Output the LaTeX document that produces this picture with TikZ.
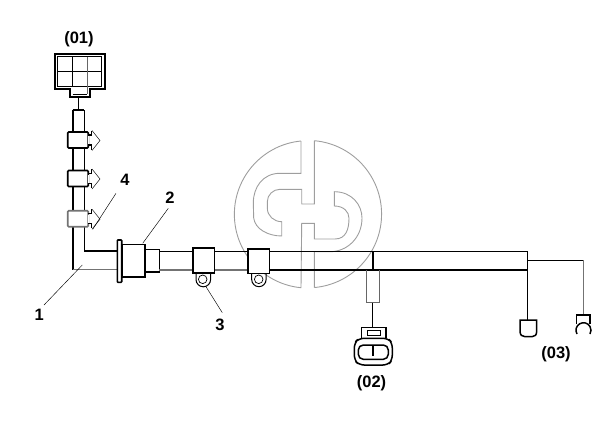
\documentclass[tikz,border=0pt]{standalone}
\usepackage{fontspec}
\setmainfont{Liberation Sans}
\usetikzlibrary{positioning}
\begin{document}
\begin{tikzpicture}[x=1pt,y=-1pt,
    wire/.style={black,line width=1.5pt},
    faint/.style={black!55,line width=1.5pt},
    part/.style={draw=black,line width=1.6pt,fill=white},
    logo/.style={black!38,line width=.9pt},
    leader/.style={black,line width=.45pt},
    callout/.style={font=\fontsize{16.5}{16.5}\selectfont\bfseries,inner sep=0pt}]
    \useasboundingbox (0,0) rectangle (616,428);

    \draw[logo] (301,141) arc[start angle=95.5,end angle=264.5,radius=73.7pt]
        -- (301.7,223.3) -- (314.3,223.3) -- (314.3,239) -- (335,239)
        .. controls (346,239) and (349,229) .. (349,218.3)
        .. controls (349,212) and (344,206) .. (334.3,206) -- (334.3,191.7)
        .. controls (352,191.7) and (362,205) .. (362,218)
        .. controls (362,238) and (347,251.7) .. (330,251.7)
        -- (314.3,251.7) -- (314.3,287.7);
    \draw[logo] (314.3,140.7) arc[start angle=85,end angle=-85,radius=73.7pt];
    \draw[logo] (301,141) -- (301,173.3) -- (280,173.3)
        .. controls (263,173.3) and (253.3,187) .. (253.3,203) -- (253.7,218)
        .. controls (255,229) and (268,236) .. (281.7,236) -- (281.7,221.7)
        .. controls (274,221.7) and (267.3,216) .. (267.3,208) -- (267.3,201.7)
        .. controls (267.3,195) and (273,189.3) .. (280,189.3) -- (301.7,189.3)
        -- (301.7,204) -- (314.3,204) -- (314.3,140.7);

    \node[callout] (l01) at (79,39) {(01)};
    \node[callout] (l02) at (371.5,383.5) {(02)};
    \node[callout] (l03) at (556,354) {(03)};
    \node[callout] (l1) at (39.3,314.5) {1};
    \node[callout] (l2) at (170,198) {2};
    \node[callout] (l3) at (220,324.5) {3};
    \node[callout] (l4) at (125,179.5) {4};

    \draw[black,line width=.5pt] (78.3,97) -- (78.3,110);
    \draw[wire] (72.7,110) -- (84.3,110);
    \draw[wire] (73,110) -- (73,269.7);
    \draw[wire] (84.3,110) -- (84.3,251);
    \draw[wire] (84.3,251) -- (118,251);
    \draw[faint] (73,269.7) -- (118,269.7);

    \draw[part,line width=1.8pt] (55,54) rectangle (105,89);
    \fill[white] (71,85) rectangle (89,91);
    \draw[part,line width=1.8pt,fill=none] (70,89) -- (70,97.3) -- (90,97.3) -- (90,89);
    \draw[black,line width=.6pt] (57.3,56.7) rectangle (101.7,86.7)
        (57.3,71) -- (101.7,71) (72.3,56.7) -- (72.3,86.7)
        (72.7,94) -- (87.3,94);
    \draw[black!60,line width=1.2pt] (87.3,56.7) -- (87.3,94);

    \foreach \cy/\cname/\cshade in {140/c1/black,178.5/c2/black,218.7/c3/black!55} {
        \node[part,draw=\cshade,rounded corners=1pt,minimum width=20.5pt,minimum height=16pt,inner sep=0pt] (\cname) at (78,\cy) {};
        \draw[wire] (88.3,\cy-5) -- (91.7,\cy-5) -- (91.7,\cy-9.5);
        \draw[wire] (88.3,\cy+5) -- (91.7,\cy+5) -- (91.7,\cy+9.5);
        \fill[white] (87.5,\cy-4) rectangle (89.2,\cy+4);
        \draw[black!80,line width=.6pt] (92,\cy-9.5) -- (100,\cy+.5) -- (92,\cy+10.5);
    }

    \draw[part] (145,249.3) rectangle (159.3,271.7);
    \draw[part] (121.7,244.3) rectangle (145,276.7);
    \draw[part,rounded corners=.8pt] (117.3,240) rectangle (121.7,282.3);

    \draw[wire] (159.3,251.7) -- (527.7,251.7) -- (527.7,270);
    \draw[faint] (159.3,270) -- (248,270);
    \draw[wire] (248,270) -- (527.7,270);
    \draw[black,line width=1.9pt] (372.7,251.7) -- (372.7,270);

    \draw[black,line width=1pt] (196,273) -- (196,279.5) arc[start angle=180,end angle=360,radius=7.3pt] -- (210.7,273);
    \draw[black,line width=1pt] (251.7,273) -- (251.7,279.5) arc[start angle=180,end angle=360,radius=7.2pt] -- (266,273);
    \draw[black,line width=.7pt] (202.7,279.3) circle[radius=4.3pt] (258.7,279.3) circle[radius=4.3pt];
    \draw[part] (192.7,247.7) rectangle (214.3,272.7);
    \draw[part] (247.7,249) rectangle (269.3,273.3);

    \draw[black!60,line width=1.2pt] (366.7,270) -- (366.7,302.7) -- (379.3,302.7) -- (379.3,270);
    \draw[wire] (372.7,302.7) -- (372.7,327.3);
    \draw[wire] (361.7,338.3) -- (361.7,327.3) -- (386,327.3) -- (386,338.3);
    \draw[black,line width=.6pt] (367.3,330) rectangle (380,335);
    \draw[wire,rounded corners=5pt] (359,338.3) -- (388,338.3) -- (392.3,343) -- (392.3,360) -- (388,365) -- (359,365) -- (354.3,360) -- (354.3,343) -- cycle;
    \draw[wire,rounded corners=5pt] (358.3,345) rectangle (388.3,359.3);
    \draw[black,line width=1.8pt] (372.7,345) -- (372.7,356);

    \draw[wire] (527.7,270) -- (527.7,320);
    \draw[wire] (527.7,260.3) -- (583.3,260.3);
    \draw[faint] (583.3,260.3) -- (583.3,315);
    \draw[wire] (527.7,320) -- (520,320) -- (520,331)
        .. controls (520,335) and (522,336.7) .. (525,336.7) -- (532,336.7)
        .. controls (535,336.7) and (536.7,335) .. (536.7,331) -- (536.7,320) -- cycle;
    \draw[wire] (576.7,324) -- (576.7,315) -- (590,315) -- (590,324);
    \draw[wire] (577,334) arc[start angle=210,end angle=-30,radius=7.5pt];

    \coordinate (t1) at (82.3,265);
    \coordinate (t2) at (142.7,243.3);
    \coordinate (t3) at (206,286.7);
    \coordinate (t4) at (92.7,229.3);
    \draw[leader] (44,305) -- (t1);
    \draw[leader] (168.3,208.3) -- (t2);
    \draw[leader] (222.3,312.7) -- (t3);
    \draw[leader] (116,193.3) -- (t4);
\end{tikzpicture}
\end{document}
